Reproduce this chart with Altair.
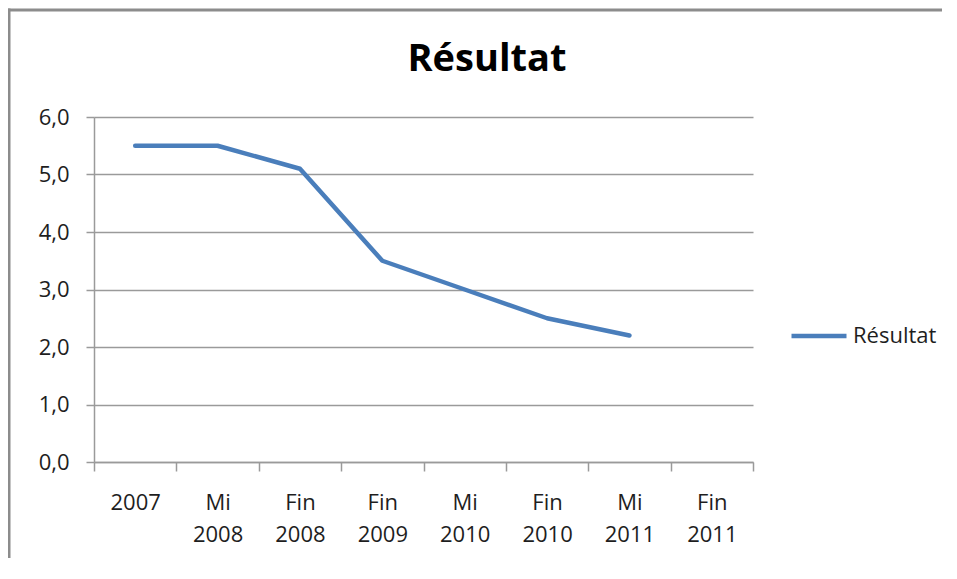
import altair as alt
import pandas as pd

chart_title = "Résultat"
categories = ["2007", "Mi 2008", "Fin 2008", "Fin 2009", "Mi 2010", "Fin 2010", "Mi 2011", "Fin 2011"]
values = [5.5, 5.5, 5.1, 3.5, 3.0, 2.5, 2.2, None]
series_name = "Résultat"
y_ticks = [0, 1, 2, 3, 4, 5, 6]

df = pd.DataFrame({"cat": categories, "val": values, "serie": [series_name] * len(categories)})
one = pd.DataFrame({"t": [chart_title]})

FONT = "Open Sans"
GRAY = "#9a9a9a"
TXT = "#1e1e1e"
BLUE = "#4a7ebb"

line = alt.Chart(df).mark_line(strokeWidth=4.5, strokeCap="round", strokeJoin="round").encode(
    x=alt.X("cat:N", sort=categories,
            scale=alt.Scale(type="band", domain=categories, paddingInner=0, paddingOuter=0),
            axis=alt.Axis(title=None, labelAngle=0, tickBand="extent", tickSize=9,
                          domainColor=GRAY, tickColor=GRAY, domainWidth=1.5, tickWidth=1.5,
                          labelFont=FONT, labelFontSize=22, labelColor=TXT,
                          labelBaseline="top", labelPadding=21, labelLineHeight=32,
                          labelExpr="split(datum.label, ' ')", grid=False)),
    y=alt.Y("val:Q",
            scale=alt.Scale(domain=[0, 6], nice=False, zero=True),
            axis=alt.Axis(title=None, values=y_ticks, tickSize=8, labelPadding=17,
                          domainColor=GRAY, tickColor=GRAY, gridColor=GRAY,
                          domainWidth=1.5, tickWidth=1.5, gridWidth=1.5,
                          labelFont=FONT, labelFontSize=22, labelColor=TXT,
                          labelExpr="replace(format(datum.value, '.1f'), '.', ',')")),
    color=alt.Color("serie:N",
                    scale=alt.Scale(domain=[series_name], range=[BLUE]),
                    legend=alt.Legend(title=None, orient="none", legendX=695, legendY=189,
                                      symbolType="stroke", symbolSize=3025, symbolStrokeWidth=4.5,
                                      labelFont=FONT, labelFontSize=22, labelColor=TXT,
                                      labelOffset=4, padding=0)),
)

frame_left = alt.Chart(one).mark_rule(stroke="#8c8c8c", strokeWidth=3, clip=False).encode(
    x=alt.value(-85), y=alt.value(-108.5), y2=alt.value(470)
)
frame_top = alt.Chart(one).mark_rule(stroke="#8c8c8c", strokeWidth=3, clip=False).encode(
    x=alt.value(-86.5), x2=alt.value(848), y=alt.value(-107)
)

title = alt.Chart(one).mark_text(
    font=FONT, fontSize=38, fontWeight="bold", color="#000000",
    align="center", baseline="alphabetic"
).encode(text="t:N", x=alt.value(393), y=alt.value(-46))

chart = alt.layer(frame_left, frame_top, title, line).properties(
    width=659,
    height=345,
    autosize=alt.AutoSizeParams(type="none"),
    padding={"left": 86, "top": 109, "right": 196, "bottom": 96},
    background="white",
).configure_view(stroke=None)

chart.save("out.html", embed_options={"renderer": "svg", "actions": False})
